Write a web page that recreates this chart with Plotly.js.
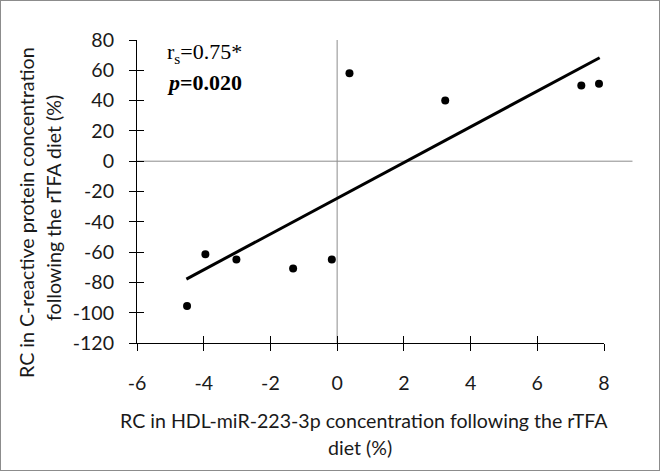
<!DOCTYPE html>
<html>
<head>
<meta charset="utf-8">
<script src="https://cdn.plot.ly/plotly-3.0.1.min.js"></script>
<style>
  html, body { margin: 0; padding: 0; background: #fff; }
  #wrap { position: relative; width: 660px; height: 471px; }
  #chart { width: 660px; height: 471px; }
  #frame { position: absolute; left: 0; top: 0; width: 658px; height: 469px; border: 1px solid #8c8c8c; pointer-events: none; }
</style>
</head>
<body>
<div id="wrap"><div id="chart"></div><div id="frame"></div></div>
<script>
// Data
const rcMiR223 = [-4.50, -3.95, -3.02, -1.32, -0.16, 0.37, 3.24, 7.32, 7.85];
const rcCRP = [-95.6, -61.5, -64.9, -70.8, -64.9, 58.1, 40.1, 50.0, 51.1];
const trendX = [-4.52, 7.87];
const trendY = [-77.8, 68.3];
const xTicks = [-6, -4, -2, 0, 2, 4, 6, 8];
const yTicks = [80, 60, 40, 20, 0, -20, -40, -60, -80, -100, -120];
const xTitleLines = ['RC in HDL-miR-223-3p concentration following the rTFA', 'diet (%)'];
const yTitleLines = ['RC in C-reactive protein concentration', 'following the rTFA diet (%)'];
const statLines = ['r<sub>s</sub>=0.75*', '<b><i>p</i>=0.020</b>'];

const labelFont = { family: 'Lato, "Open Sans", sans-serif', size: 19.6, color: '#1a1a1a' };

const traces = [
  { x: trendX, y: trendY, type: 'scatter', mode: 'lines', xaxis: 'x2', yaxis: 'y2', line: { color: '#000', width: 3 }, hoverinfo: 'skip', showlegend: false },
  { x: rcMiR223, y: rcCRP, type: 'scatter', mode: 'markers', marker: { color: '#000', size: 8 }, showlegend: false }
];

const axisCommon = { showgrid: false, zeroline: false, showline: true, linecolor: '#000', linewidth: 1, tickcolor: '#000', ticklen: 7, tickwidth: 1 };

const layout = {
  width: 660, height: 471,
  margin: { l: 137, r: 56, t: 40, b: 128 },
  paper_bgcolor: '#fff', plot_bgcolor: '#fff',
  xaxis: Object.assign({}, axisCommon, {
    range: [-6, 8], tickmode: 'array', tickvals: xTicks, ticktext: xTicks.map(String),
    ticks: 'outside', tickfont: labelFont, ticklabelstandoff: 15
  }),
  yaxis: Object.assign({}, axisCommon, {
    range: [-120, 80], tickmode: 'array', tickvals: yTicks, ticktext: yTicks.map(String),
    ticks: 'outside', tickfont: labelFont, ticklabelstandoff: 11
  }),
  xaxis2: Object.assign({}, axisCommon, {
    overlaying: 'x', range: [-6, 8], tickmode: 'array', tickvals: xTicks,
    ticks: 'inside', showticklabels: false, anchor: 'y2', side: 'bottom'
  }),
  yaxis2: Object.assign({}, axisCommon, {
    overlaying: 'y', range: [-120, 80], tickmode: 'array', tickvals: yTicks,
    ticks: 'inside', showticklabels: false, anchor: 'x2', side: 'left'
  }),
  shapes: [
    { type: 'line', xref: 'paper', yref: 'y', x0: 0, x1: 1.061, y0: 0, y1: 0, line: { color: '#8c8c8c', width: 1 }, layer: 'below' },
    { type: 'line', xref: 'x', yref: 'paper', x0: 0, x1: 0, y0: 0, y1: 1, line: { color: '#8c8c8c', width: 1 }, layer: 'below' }
  ],
  annotations: [
    { text: statLines[0], xref: 'paper', yref: 'paper', x: 0.061, y: 0.958, xanchor: 'left', yanchor: 'middle', showarrow: false,
      font: { family: '"Liberation Serif", "Times New Roman", serif', size: 22, color: '#000' } },
    { text: statLines[1], xref: 'paper', yref: 'paper', x: 0.061, y: 0.86, xanchor: 'left', yanchor: 'middle', showarrow: false,
      font: { family: '"Liberation Serif", "Times New Roman", serif', size: 22, color: '#000' } },
    { text: xTitleLines[0], xref: 'paper', yref: 'paper', x: (364 - 137) / 467, y: -(420 - 343) / 303, xanchor: 'center', yanchor: 'middle', showarrow: false, font: labelFont },
    { text: xTitleLines[1], xref: 'paper', yref: 'paper', x: (360 - 137) / 467, y: -(447 - 343) / 303, xanchor: 'center', yanchor: 'middle', showarrow: false, font: labelFont },
    { text: yTitleLines[0], xref: 'paper', yref: 'paper', x: (26 - 137) / 467, y: 1 - (213 - 40) / 303, xanchor: 'center', yanchor: 'middle', textangle: -90, showarrow: false, font: labelFont },
    { text: yTitleLines[1], xref: 'paper', yref: 'paper', x: (53 - 137) / 467, y: 1 - (208 - 40) / 303, xanchor: 'center', yanchor: 'middle', textangle: -90, showarrow: false, font: labelFont }
  ]
};

Plotly.newPlot('chart', traces, layout, { staticPlot: true, displayModeBar: false });
</script>
</body>
</html>
